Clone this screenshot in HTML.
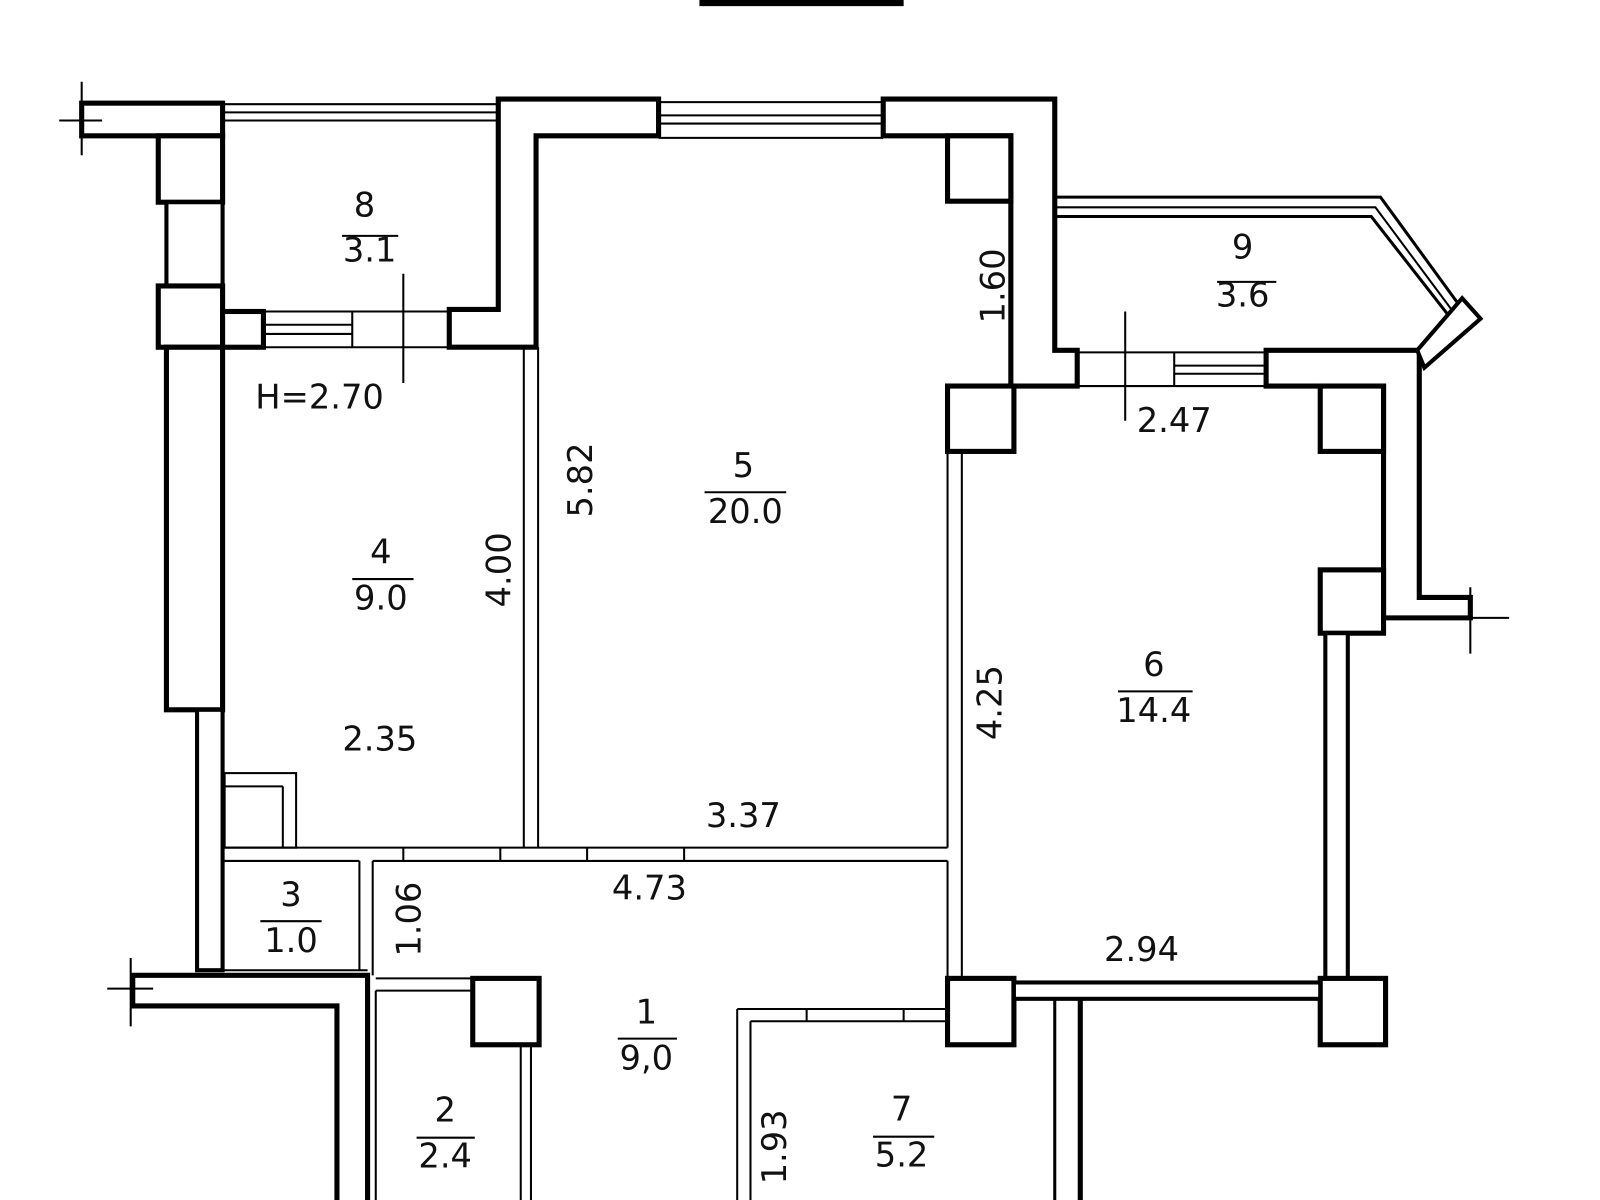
<!DOCTYPE html>
<html><head><meta charset="utf-8"><style>
html,body{margin:0;padding:0;background:#fff}
svg{display:block}
text{font-family:"DejaVu Sans","Liberation Sans",sans-serif;font-size:33px;fill:#111;text-anchor:middle}
</style></head><body>
<svg width="1600" height="1200" viewBox="0 0 1567 1175" preserveAspectRatio="none">
<rect width="1567" height="1175" fill="#fff"/>
<g fill="#fff" stroke="#000" stroke-width="5" stroke-linejoin="miter">
<line x1="685" y1="3" x2="885" y2="3" stroke-width="6"/>
<rect x="80" y="101" width="138" height="32"/>
<rect x="155" y="133" width="63" height="65"/>
<rect x="163" y="198" width="55" height="82" stroke-width="4"/>
<rect x="155" y="280" width="63" height="60"/>
<rect x="218" y="305" width="40" height="35"/>
<rect x="163" y="340" width="55" height="355"/>
<rect x="193" y="695" width="25" height="255" stroke-width="4"/>
<polygon points="488,97 645,97 645,133 525,133 525,340 440,340 440,303 488,303"/>
<polygon points="865,97 1033,97 1033,343 1055,343 1055,378 990,378 990,133 865,133"/>
<rect x="928" y="133" width="62" height="64"/>
<rect x="928" y="378" width="65" height="64"/>
<polygon points="1240,343 1390,343 1390,585 1440,585 1440,605 1355,605 1355,378 1240,378"/>
<rect x="1293" y="378" width="62" height="64"/>
<rect x="1293" y="558" width="62" height="62"/>
<rect x="1298" y="620" width="22" height="338" stroke-width="4"/>
<rect x="1293" y="958" width="64" height="65"/>
<rect x="928" y="958" width="65" height="65"/>
<rect x="993" y="962" width="300" height="16" stroke-width="4"/>
<polygon points="130,955 360,955 360,1200 330,1200 330,985 130,985"/>
<rect x="463" y="958" width="65" height="65"/>
</g>
<g fill="none" stroke="#000" stroke-width="2">
<line x1="218" y1="102" x2="488" y2="102"/><line x1="218" y1="110" x2="488" y2="110"/><line x1="218" y1="118" x2="488" y2="118"/>
<line x1="645" y1="100" x2="865" y2="100"/><line x1="645" y1="113" x2="865" y2="113"/><line x1="645" y1="121" x2="865" y2="121"/><line x1="645" y1="135" x2="865" y2="135"/>
<line x1="258" y1="305" x2="440" y2="305"/><line x1="258" y1="318" x2="345" y2="318"/><line x1="258" y1="327" x2="345" y2="327"/><line x1="258" y1="340" x2="440" y2="340"/><line x1="345" y1="305" x2="345" y2="340"/>
<line x1="1055" y1="345" x2="1240" y2="345"/><line x1="1150" y1="358" x2="1240" y2="358"/><line x1="1150" y1="366" x2="1240" y2="366"/><line x1="1055" y1="378" x2="1240" y2="378"/><line x1="1150" y1="345" x2="1150" y2="378"/>
<polyline points="1035,193 1352,193 1430,300" stroke-width="3"/>
<polyline points="1035,203 1347,203 1423,305"/>
<polyline points="1035,212 1343,212 1418,308" stroke-width="3"/>
<polygon points="1432,292 1450,312 1395,360 1388,343" stroke-width="4" fill="#fff"/>
<line x1="80" y1="80" x2="80" y2="152"/><line x1="58" y1="118" x2="100" y2="118"/>
<line x1="128" y1="938" x2="128" y2="1005"/><line x1="105" y1="968" x2="150" y2="968"/>
<line x1="1440" y1="575" x2="1440" y2="640"/><line x1="1418" y1="605" x2="1478" y2="605"/>
<line x1="395" y1="268" x2="395" y2="375"/>
<line x1="1102" y1="305" x2="1102" y2="412"/>
<line x1="513" y1="340" x2="513" y2="830"/><line x1="527" y1="340" x2="527" y2="830"/>
<line x1="928" y1="442" x2="928" y2="830"/><line x1="942" y1="442" x2="942" y2="958"/>
<line x1="218" y1="830" x2="928" y2="830"/><line x1="218" y1="843" x2="352" y2="843"/><line x1="365" y1="843" x2="928" y2="843"/>
<line x1="928" y1="843" x2="928" y2="958"/>
<line x1="395" y1="830" x2="395" y2="843"/><line x1="490" y1="830" x2="490" y2="843"/>
<line x1="575" y1="830" x2="575" y2="843"/><line x1="670" y1="830" x2="670" y2="843"/>
<rect x="220" y="757" width="70" height="73"/><line x1="220" y1="770" x2="277" y2="770"/><line x1="277" y1="770" x2="277" y2="830"/>
<line x1="218" y1="950" x2="360" y2="950"/>
<line x1="352" y1="843" x2="352" y2="950"/><line x1="365" y1="843" x2="365" y2="955"/>
<line x1="368" y1="958" x2="463" y2="958"/><line x1="368" y1="970" x2="463" y2="970"/>
<line x1="368" y1="970" x2="368" y2="1200"/>
<line x1="510" y1="1023" x2="510" y2="1200"/><line x1="520" y1="1023" x2="520" y2="1200"/>
<line x1="722" y1="988" x2="928" y2="988"/><line x1="735" y1="1000" x2="928" y2="1000"/>
<line x1="722" y1="988" x2="722" y2="1200"/><line x1="735" y1="1000" x2="735" y2="1200"/>
<line x1="790" y1="988" x2="790" y2="1000"/><line x1="885" y1="988" x2="885" y2="1000"/>
<line x1="1033" y1="978" x2="1033" y2="1200" stroke-width="3"/><line x1="1058" y1="978" x2="1058" y2="1200" stroke-width="5"/>
<line x1="335" y1="231" x2="390" y2="231"/><line x1="1192" y1="276" x2="1250" y2="276"/>
<line x1="690" y1="482" x2="770" y2="482"/><line x1="345" y1="567" x2="405" y2="567"/>
<line x1="1095" y1="677" x2="1168" y2="677"/><line x1="255" y1="902" x2="315" y2="902"/>
<line x1="605" y1="1017" x2="663" y2="1017"/><line x1="408" y1="1114" x2="465" y2="1114"/>
<line x1="855" y1="1113" x2="915" y2="1113"/>
</g>
<text x="357" y="212">8</text><text x="362" y="256">3.1</text>
<text x="1217" y="253">9</text><text x="1217" y="300">3.6</text>
<text x="728" y="467">5</text><text x="730" y="512">20.0</text>
<text x="373" y="552">4</text><text x="373" y="597">9.0</text>
<text x="1130" y="662">6</text><text x="1130" y="707">14.4</text>
<text x="285" y="887">3</text><text x="285" y="932">1.0</text>
<text x="633" y="1002">1</text><text x="633" y="1047">9,0</text>
<text x="436" y="1098">2</text><text x="436" y="1143">2.4</text>
<text x="883" y="1097">7</text><text x="883" y="1142">5.2</text>
<text x="313" y="400">H=2.70</text>
<text x="1150" y="423">2.47</text>
<text x="372" y="735">2.35</text>
<text x="728" y="810">3.37</text>
<text x="636" y="881">4.73</text>
<text x="1118" y="941">2.94</text>
<text transform="translate(984,280) rotate(-90)">1.60</text>
<text transform="translate(580,470) rotate(-90)">5.82</text>
<text transform="translate(500,558) rotate(-90)">4.00</text>
<text transform="translate(981,688) rotate(-90)">4.25</text>
<text transform="translate(412,900) rotate(-90)">1.06</text>
<text transform="translate(770,1123) rotate(-90)">1.93</text>
</svg>
</body></html>
